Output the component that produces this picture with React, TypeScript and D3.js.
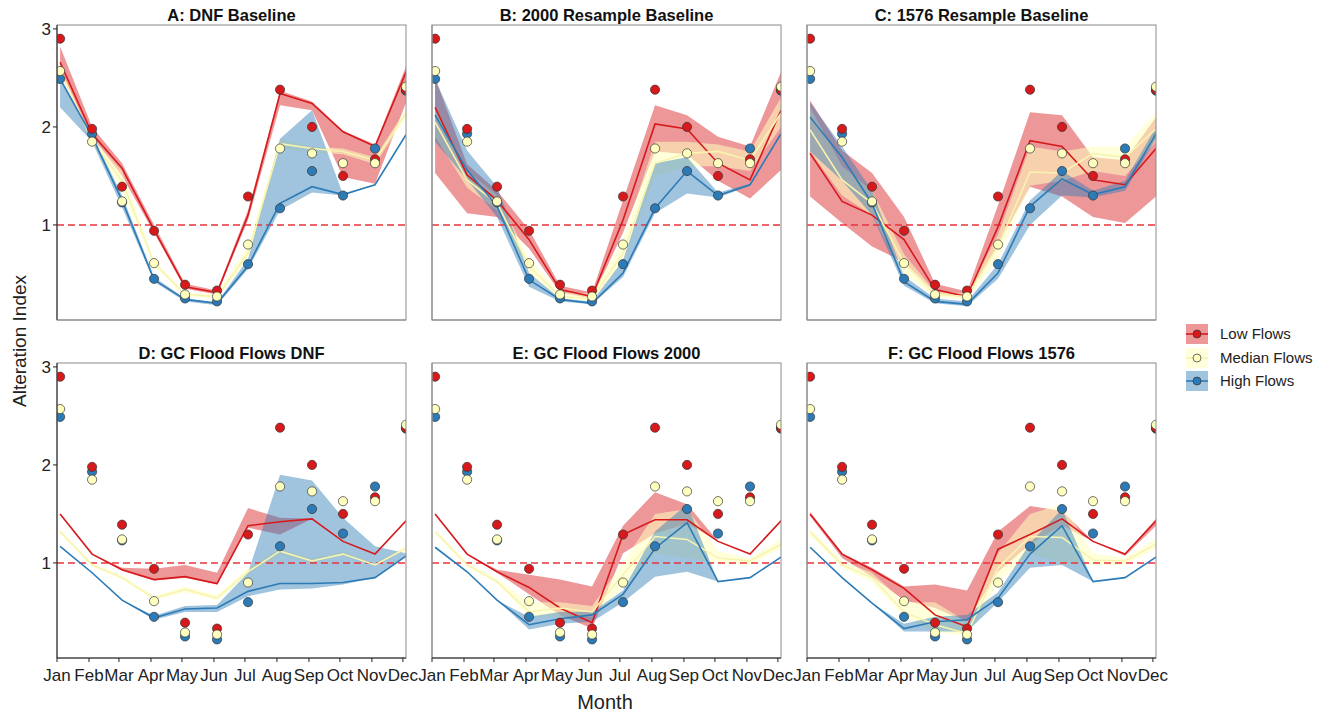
import React from "react";
import * as d3 from "d3";

const months = ["Jan", "Feb", "Mar", "Apr", "May", "Jun", "Jul", "Aug", "Sep", "Oct", "Nov", "Dec"];
const seriesNames = ["Low Flows", "Median Flows", "High Flows"];
const yTicks = [1, 2, 3];

// observed (dots), identical in all panels
const obsLow = [2.9, 1.98, 1.39, 0.94, 0.39, 0.33, 1.29, 2.38, 2.0, 1.5, 1.67, 2.38];
const obsMed = [2.57, 1.85, 1.24, 0.61, 0.29, 0.27, 0.8, 1.78, 1.73, 1.63, 1.63, 2.41];
const obsHigh = [2.49, 1.93, 1.23, 0.45, 0.25, 0.22, 0.6, 1.17, 1.55, 1.3, 1.78, 2.37];

// A: DNF Baseline
const A_lowLine = [2.66, 1.93, 1.58, 0.95, 0.37, 0.31, 1.1, 2.34, 2.24, 1.95, 1.8, 2.56];
const A_lowMin = [2.55, 1.9, 1.5, 0.92, 0.35, 0.29, 1.05, 2.22, 2.17, 1.49, 1.42, 2.25];
const A_lowMax = [2.82, 2.0, 1.63, 1.0, 0.4, 0.33, 1.15, 2.37, 2.26, 1.96, 1.82, 2.62];
const A_medLine = [2.58, 1.86, 1.45, 0.61, 0.29, 0.27, 0.71, 1.83, 1.78, 1.75, 1.66, 2.14];
const A_medMin = [2.55, 1.83, 1.35, 0.58, 0.27, 0.25, 0.65, 1.78, 1.74, 1.72, 1.62, 2.1];
const A_medMax = [2.61, 1.89, 1.55, 0.64, 0.31, 0.29, 0.8, 1.88, 1.8, 1.78, 1.69, 2.18];
const A_highLine = [2.49, 1.9, 1.25, 0.44, 0.24, 0.2, 0.58, 1.22, 1.39, 1.31, 1.41, 1.92];
const A_highMin = [2.2, 1.85, 1.18, 0.42, 0.22, 0.18, 0.55, 1.15, 1.33, 1.3, 1.41, 1.92];
const A_highMax = [2.5, 1.93, 1.3, 0.47, 0.25, 0.21, 0.65, 1.88, 2.17, 1.31, 1.41, 1.92];

// B: 2000 Resample Baseline
const B_lowLine = [2.2, 1.51, 1.25, 0.85, 0.34, 0.27, 1.05, 2.03, 1.98, 1.63, 1.46, 2.17];
const B_lowMin = [1.53, 1.12, 1.08, 0.76, 0.31, 0.25, 0.92, 1.75, 1.72, 1.45, 1.27, 1.56];
const B_lowMax = [2.5, 1.62, 1.35, 0.95, 0.38, 0.31, 1.25, 2.22, 2.12, 1.9, 1.8, 2.56];
const B_medLine = [2.05, 1.46, 1.22, 0.58, 0.27, 0.25, 0.71, 1.63, 1.73, 1.75, 1.66, 2.14];
const B_medMin = [1.9, 1.38, 1.15, 0.5, 0.25, 0.22, 0.62, 1.5, 1.6, 1.6, 1.55, 2.0];
const B_medMax = [2.2, 1.55, 1.3, 0.66, 0.31, 0.3, 0.85, 1.85, 1.85, 1.82, 1.75, 2.3];
const B_highLine = [2.12, 1.56, 1.19, 0.44, 0.24, 0.2, 0.51, 1.17, 1.55, 1.3, 1.41, 1.93];
const B_highMin = [1.85, 1.46, 1.08, 0.37, 0.22, 0.19, 0.47, 1.12, 1.32, 1.28, 1.4, 1.92];
const B_highMax = [2.49, 1.76, 1.39, 0.51, 0.25, 0.22, 0.64, 1.63, 1.69, 1.33, 1.42, 1.94];

// C: 1576 Resample Baseline
const C_lowLine = [1.73, 1.24, 1.1, 0.85, 0.34, 0.27, 0.98, 1.86, 1.8, 1.46, 1.41, 1.78];
const C_lowMin = [1.29, 1.02, 0.78, 0.62, 0.31, 0.25, 0.8, 1.39, 1.29, 1.08, 1.02, 1.29];
const C_lowMax = [2.27, 1.76, 1.53, 1.08, 0.4, 0.32, 1.2, 2.15, 2.12, 1.69, 1.66, 2.1];
const C_medLine = [1.97, 1.46, 1.22, 0.61, 0.29, 0.27, 0.78, 1.54, 1.53, 1.73, 1.69, 1.98];
const C_medMin = [1.75, 1.3, 1.1, 0.5, 0.26, 0.24, 0.65, 1.4, 1.45, 1.55, 1.5, 1.85];
const C_medMax = [2.2, 1.6, 1.35, 0.7, 0.32, 0.3, 0.9, 1.8, 1.75, 1.8, 1.8, 2.15];
const C_highLine = [2.1, 1.69, 1.22, 0.42, 0.22, 0.19, 0.51, 1.19, 1.47, 1.31, 1.39, 1.93];
const C_highMin = [1.75, 1.45, 1.1, 0.38, 0.2, 0.17, 0.45, 1.0, 1.3, 1.28, 1.35, 1.88];
const C_highMax = [2.25, 1.8, 1.35, 0.48, 0.25, 0.22, 0.6, 1.25, 1.55, 1.35, 1.45, 2.0];

// D: GC Flood Flows DNF
const D_lowLine = [1.5, 1.09, 0.93, 0.83, 0.86, 0.79, 1.38, 1.42, 1.45, 1.22, 1.09, 1.43];
const D_lowMin = [1.5, 1.09, 0.92, 0.82, 0.85, 0.78, 1.36, 1.29, 1.45, 1.22, 1.09, 1.43];
const D_lowMax = [1.5, 1.09, 0.95, 0.94, 0.98, 0.9, 1.56, 1.46, 1.45, 1.22, 1.09, 1.43];
const D_medLine = [1.32, 0.98, 0.85, 0.64, 0.73, 0.64, 0.91, 1.12, 1.02, 1.09, 0.98, 1.15];
const D_medMin = [1.3, 0.96, 0.83, 0.62, 0.7, 0.62, 0.88, 1.08, 1.0, 1.07, 0.97, 1.13];
const D_medMax = [1.34, 1.0, 0.87, 0.66, 0.76, 0.67, 0.95, 1.15, 1.05, 1.12, 1.0, 1.17];
const D_highLine = [1.17, 0.9, 0.62, 0.44, 0.53, 0.54, 0.71, 0.79, 0.79, 0.8, 0.85, 1.07];
const D_highMin = [1.17, 0.9, 0.62, 0.42, 0.5, 0.5, 0.66, 0.73, 0.74, 0.78, 0.85, 1.07];
const D_highMax = [1.17, 0.9, 0.62, 0.46, 0.56, 0.57, 0.9, 1.9, 1.84, 1.46, 1.17, 1.1];

// E: GC Flood Flows 2000
const E_lowLine = [1.5, 1.09, 0.91, 0.75, 0.54, 0.39, 1.29, 1.44, 1.44, 1.22, 1.09, 1.43];
const E_lowMin = [1.5, 1.09, 0.9, 0.68, 0.47, 0.33, 1.1, 1.3, 1.4, 1.22, 1.09, 1.43];
const E_lowMax = [1.5, 1.09, 0.93, 0.88, 0.83, 0.76, 1.38, 1.72, 1.6, 1.22, 1.09, 1.43];
const E_medLine = [1.32, 0.98, 0.81, 0.5, 0.54, 0.5, 0.88, 1.27, 1.24, 1.05, 1.02, 1.19];
const E_medMin = [1.3, 0.96, 0.79, 0.45, 0.45, 0.45, 0.75, 1.1, 1.05, 1.0, 0.98, 1.15];
const E_medMax = [1.34, 1.0, 0.84, 0.6, 0.6, 0.56, 1.0, 1.5, 1.55, 1.12, 1.05, 1.25];
const E_highLine = [1.16, 0.91, 0.62, 0.37, 0.43, 0.47, 0.68, 1.15, 1.41, 0.81, 0.85, 1.06];
const E_highMin = [1.16, 0.91, 0.62, 0.32, 0.38, 0.4, 0.6, 0.86, 0.91, 0.81, 0.85, 1.06];
const E_highMax = [1.16, 0.91, 0.62, 0.45, 0.5, 0.5, 0.72, 1.32, 1.6, 0.81, 0.85, 1.06];

// F: GC Flood Flows 1576
const F_lowLine = [1.5, 1.09, 0.93, 0.74, 0.47, 0.35, 1.14, 1.29, 1.45, 1.22, 1.09, 1.43];
const F_lowMin = [1.48, 1.05, 0.86, 0.62, 0.54, 0.4, 0.91, 1.19, 1.38, 1.22, 1.07, 1.38];
const F_lowMax = [1.52, 1.1, 0.95, 0.76, 0.78, 0.72, 1.32, 1.58, 1.53, 1.22, 1.09, 1.45];
const F_medLine = [1.32, 0.98, 0.85, 0.5, 0.37, 0.28, 0.95, 1.27, 1.26, 1.03, 1.02, 1.19];
const F_medMin = [1.28, 0.95, 0.8, 0.45, 0.3, 0.25, 0.8, 1.1, 1.0, 0.98, 0.98, 1.15];
const F_medMax = [1.35, 1.02, 0.9, 0.6, 0.6, 0.4, 1.1, 1.5, 1.6, 1.1, 1.05, 1.25];
const F_highLine = [1.16, 0.85, 0.59, 0.33, 0.4, 0.42, 0.64, 1.09, 1.38, 0.81, 0.85, 1.06];
const F_highMin = [1.16, 0.85, 0.59, 0.3, 0.3, 0.3, 0.6, 0.95, 0.98, 0.81, 0.85, 1.06];
const F_highMax = [1.16, 0.85, 0.59, 0.38, 0.45, 0.47, 0.7, 1.2, 1.55, 0.81, 0.85, 1.06];

const panelTitles = [
  "A: DNF Baseline",
  "B: 2000 Resample Baseline",
  "C: 1576 Resample Baseline",
  "D: GC Flood Flows DNF",
  "E: GC Flood Flows 2000",
  "F: GC Flood Flows 1576",
];

const panelData = [
  [[A_lowLine, A_lowMin, A_lowMax], [A_medLine, A_medMin, A_medMax], [A_highLine, A_highMin, A_highMax]],
  [[B_lowLine, B_lowMin, B_lowMax], [B_medLine, B_medMin, B_medMax], [B_highLine, B_highMin, B_highMax]],
  [[C_lowLine, C_lowMin, C_lowMax], [C_medLine, C_medMin, C_medMax], [C_highLine, C_highMin, C_highMax]],
  [[D_lowLine, D_lowMin, D_lowMax], [D_medLine, D_medMin, D_medMax], [D_highLine, D_highMin, D_highMax]],
  [[E_lowLine, E_lowMin, E_lowMax], [E_medLine, E_medMin, E_medMax], [E_highLine, E_highMin, E_highMax]],
  [[F_lowLine, F_lowMin, F_lowMax], [F_medLine, F_medMin, F_medMax], [F_highLine, F_highMin, F_highMax]],
];
const observed = [obsLow, obsMed, obsHigh];

const COLORS = ["#D7191C", "#FFFFBF", "#2C7BB6"];
const LINE_COLORS = ["#D7191C", "#F8F4B0", "#2C7BB6"];
const FONT = "'Liberation Sans', Arial, Helvetica, sans-serif";

const colLeft = [57, 432, 807];
const rowTop = [25, 363];
const PW = 349;
const PH = 295;

const dates = months.map((_, i) => new Date(2000, i, 4));
const tickDates = months.map((_, i) => new Date(2000, i, 1));

function Panel({ idx }: { idx: number }) {
  const col = idx % 3;
  const row = Math.floor(idx / 3);
  const x0 = colLeft[col];
  const y0 = rowTop[row];
  const x = d3.scaleTime().domain([new Date(2000, 0, 1), new Date(2000, 11, 4)]).range([x0, x0 + PW]);
  const y = d3.scaleLinear().domain([0.03, 3.04]).range([y0 + PH, y0]);
  const data = panelData[idx];
  const clipId = `clip${idx}`;
  const area = (lo: number[], hi: number[]) =>
    d3.area<number>().x((_, i) => x(dates[i])).y0((_, i) => y(lo[i])).y1((_, i) => y(hi[i]))(lo) || "";
  const line = (v: number[]) => d3.line<number>().x((_, i) => x(dates[i])).y((d) => y(d))(v) || "";
  const pointOrder = [2, 0, 1];
  return (
    <g>
      <defs>
        <clipPath id={clipId}>
          <rect x={x0} y={y0} width={PW} height={PH} />
        </clipPath>
      </defs>
      <rect x={x0} y={y0} width={PW} height={PH} fill="#fff" />
      <g clipPath={`url(#${clipId})`}>
        {data.map((s, k) => (
          <path key={"r" + k} d={area(s[1], s[2])} fill={COLORS[k]} fillOpacity={k === 1 ? 0.55 : 0.45} stroke="none" />
        ))}
        <line x1={x0} x2={x0 + PW} y1={y(1)} y2={y(1)} stroke="#E8343B" strokeWidth={1.6} strokeDasharray="7 4" />
        {data.map((s, k) => (
          <path key={"l" + k} d={line(s[0])} fill="none" stroke={LINE_COLORS[k]} strokeWidth={1.6} />
        ))}
        {pointOrder.map((k) =>
          observed[k].map((v, i) => (
            <circle key={`p${k}-${i}`} cx={x(dates[i])} cy={y(v)} r={4.6} fill={COLORS[k]} stroke="#333" strokeWidth={0.7} />
          ))
        )}
      </g>
      <rect x={x0} y={y0} width={PW} height={PH} fill="none" stroke="#8a8a8a" strokeWidth={1} />
      <line x1={x0} x2={x0} y1={y0} y2={y0 + PH} stroke={col === 0 ? "#222" : "#8a8a8a"} strokeWidth={1} />
      <line x1={x0} x2={x0 + PW} y1={y0 + PH} y2={y0 + PH} stroke={row === 1 ? "#222" : "#8a8a8a"} strokeWidth={1} />
      <text x={x0 + PW / 2} y={y0 - 4} textAnchor="middle" fontFamily={FONT} fontWeight="bold" fontSize={16.5} fill="#111">
        {panelTitles[idx]}
      </text>
      {col === 0 &&
        yTicks.map((t) => (
          <g key={"yt" + t}>
            <line x1={x0 - 4} x2={x0} y1={y(t)} y2={y(t)} stroke="#222" />
            <text x={x0 - 6} y={y(t)} dy="0.36em" textAnchor="end" fontFamily={FONT} fontSize={17} fill="#222">
              {t}
            </text>
          </g>
        ))}
      {row === 1 &&
        tickDates.map((d, i) => (
          <g key={"xt" + i}>
            <line x1={x(d)} x2={x(d)} y1={y0 + PH} y2={y0 + PH + 4} stroke="#222" />
            <text x={x(d)} y={y0 + PH + 23} textAnchor="middle" fontFamily={FONT} fontSize={17} fill="#222">
              {months[i]}
            </text>
          </g>
        ))}
    </g>
  );
}

function Legend() {
  const lx = 1186;
  const rows = [334, 358, 381];
  return (
    <g>
      {seriesNames.map((name, k) => (
        <g key={name}>
          <rect x={lx} y={rows[k] - 10} width={22} height={20} fill={COLORS[k]} fillOpacity={k === 1 ? 0.55 : 0.45} />
          <line x1={lx} x2={lx + 22} y1={rows[k]} y2={rows[k]} stroke={LINE_COLORS[k]} strokeWidth={1.6} />
          <circle cx={lx + 11} cy={rows[k]} r={4} fill={COLORS[k]} stroke="#333" strokeWidth={0.7} />
          <text x={lx + 34} y={rows[k]} dy="0.36em" fontFamily={FONT} fontSize={15} fill="#222">
            {name}
          </text>
        </g>
      ))}
    </g>
  );
}

export default function App() {
  return (
    <svg width={1327} height={712} style={{ position: "absolute", left: 0, top: 0, background: "#fff" }}>
      <rect x={0} y={0} width={1327} height={712} fill="#fff" />
      {panelTitles.map((_, i) => (
        <Panel key={i} idx={i} />
      ))}
      <text
        transform="translate(26,341) rotate(-90)"
        textAnchor="middle"
        fontFamily={FONT}
        fontSize={19}
        fill="#222"
      >
        Alteration Index
      </text>
      <text x={605} y={709} textAnchor="middle" fontFamily={FONT} fontSize={20} fill="#222">
        Month
      </text>
      <Legend />
    </svg>
  );
}
